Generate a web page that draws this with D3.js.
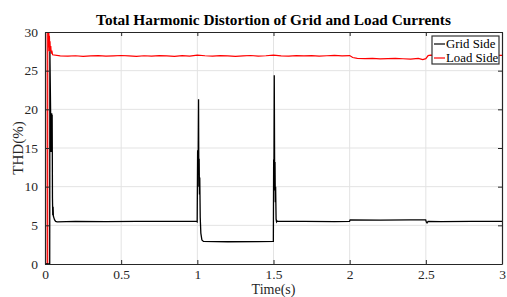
<!DOCTYPE html>
<html><head><meta charset="utf-8">
<script src="https://cdnjs.cloudflare.com/ajax/libs/d3/7.8.5/d3.min.js"></script>
<style>
html,body{margin:0;padding:0;background:#fff;}
svg{display:block;font-family:"Liberation Serif","Times New Roman",serif;}
</style></head><body>
<svg id="c" width="507" height="297"></svg>
<script>
const title = "Total Harmonic Distortion of Grid and Load Currents";
const xLabel = "Time(s)";
const yLabel = "THD(%)";
const seriesNames = ["Grid Side", "Load Side"];
const seriesColors = ["#000000", "#ff0000"];
const xTicks = [0, 0.5, 1, 1.5, 2, 2.5, 3];
const xTickLabels = ["0", "0.5", "1", "1.5", "2", "2.5", "3"];
const yTicks = [0, 5, 10, 15, 20, 25, 30];

// Grid side THD (time s, THD %)
const gridT = [0, 0.031, 0.032, 0.040, 0.044, 0.046, 0.047, 0.048, 0.049, 0.051, 0.053, 0.055, 0.058, 0.063, 0.070, 0.080,
  0.2, 0.4, 0.6, 0.8, 0.995,
  0.999, 1.002, 1.005, 1.008, 1.010, 1.012, 1.014, 1.016, 1.019, 1.023, 1.030, 1.040, 1.2, 1.4, 1.499,
  1.501, 1.503, 1.505, 1.508, 1.510, 1.512, 1.514, 1.517, 1.520, 1.524, 1.530,
  1.7, 1.9, 1.999, 2.003, 2.2, 2.4, 2.499, 2.503, 2.508, 2.515, 2.6, 2.8, 3.0];
const gridV = [0, 0, 27.5, 14.5, 19.5, 14.8, 19.3, 14.6, 8.5, 6.3, 7.4, 6.2, 6.0, 5.7, 5.5, 5.45,
  5.5, 5.48, 5.5, 5.52, 5.5,
  5.45, 14.7, 11.5, 21.3, 10.0, 13.6, 9.0, 11.2, 6.0, 4.0, 3.1, 2.92, 2.88, 2.9, 2.92,
  13.5, 11.0, 24.4, 9.5, 13.2, 8.0, 10.0, 5.8, 5.45, 5.55, 5.5,
  5.52, 5.48, 5.5, 5.7, 5.68, 5.7, 5.7, 5.45, 5.32, 5.5, 5.48, 5.5, 5.5];

// Load side THD (time s, THD %)
const loadT = [0, 0.0046, 0.0047, 0.0052, 0.0175, 0.0180, 0.021, 0.023, 0.025, 0.027, 0.029, 0.031, 0.033, 0.035, 0.038, 0.041, 0.045,
  0.05, 0.10, 0.15, 0.20, 0.25, 0.30, 0.35, 0.40, 0.45, 0.50, 0.55, 0.60, 0.65, 0.70, 0.75, 0.80, 0.85, 0.90, 0.95,
  1.00, 1.05, 1.10, 1.15, 1.20, 1.25, 1.30, 1.35, 1.40, 1.45, 1.50, 1.55, 1.60, 1.65, 1.70, 1.75, 1.80, 1.85, 1.90, 1.95,
  2.00, 2.02, 2.05, 2.10, 2.15, 2.20, 2.25, 2.30, 2.35, 2.40, 2.45, 2.48, 2.50, 2.515, 2.53, 2.6, 2.7, 2.8, 2.9, 3.0];
const loadV = [0, 0, 40, 0, 0, 40, 31, 28, 30.5, 27.5, 29.5, 27.8, 28.8, 27.5, 28.2, 27.2, 27.6,
  27.05, 26.92, 26.88, 26.93, 26.86, 26.90, 26.95, 26.87, 26.92, 26.96, 26.90, 26.85, 26.93, 26.88, 26.95, 26.91, 26.86, 26.94, 26.89,
  27.02, 26.93, 26.88, 26.95, 26.90, 26.86, 26.92, 26.96, 26.89, 26.93, 27.00, 26.91, 26.87, 26.94, 26.90, 26.95, 26.88, 26.93, 26.97, 26.92,
  26.95, 26.70, 26.60, 26.55, 26.58, 26.52, 26.56, 26.60, 26.54, 26.50, 26.58, 26.42, 26.55, 26.95, 27.0, 26.97, 27.0, 26.96, 27.0, 26.98];

const svg = d3.select("#c");
const L = 45, R = 502, T = 32, B = 264;
const x = d3.scaleLinear().domain([0, 3]).range([L, R]);
const y = d3.scaleLinear().domain([0, 30]).range([B, T]);
const axisColor = "#262626";

// grid
const g = svg.append("g");
g.selectAll(".gx").data(xTicks.slice(1, -1)).enter().append("line")
  .attr("x1", d => x(d)).attr("x2", d => x(d)).attr("y1", T).attr("y2", B)
  .attr("stroke", "#e3e3e3").attr("stroke-width", 1);
g.selectAll(".gy").data(yTicks.slice(1, -1)).enter().append("line")
  .attr("x1", L).attr("x2", R).attr("y1", d => y(d)).attr("y2", d => y(d))
  .attr("stroke", "#e3e3e3").attr("stroke-width", 1);

// clip
svg.append("clipPath").attr("id", "clip").append("rect")
  .attr("x", L).attr("y", T).attr("width", R - L).attr("height", B - T);

const line = d3.line().x(d => x(d[0])).y(d => y(d[1]));
const plot = svg.append("g").attr("clip-path", "url(#clip)");
plot.append("path").datum(loadT.map((t, i) => [t, loadV[i]]))
  .attr("d", line).attr("fill", "none").attr("stroke", seriesColors[1]).attr("stroke-width", 1.2);
plot.append("path").datum(gridT.map((t, i) => [t, gridV[i]]))
  .attr("d", line).attr("fill", "none").attr("stroke", seriesColors[0]).attr("stroke-width", 1.3);

// axes
const tickLen = 4;
const xAxisB = d3.axisBottom(x).tickValues(xTicks).tickFormat((d, i) => xTickLabels[i]).tickSizeInner(-tickLen).tickSizeOuter(0).tickPadding(5);
const yAxisL = d3.axisLeft(y).tickValues(yTicks).tickSizeInner(-tickLen).tickSizeOuter(0).tickPadding(7);
const xAxisT = d3.axisTop(x).tickValues(xTicks).tickFormat("").tickSizeInner(-tickLen).tickSizeOuter(0);
const yAxisR = d3.axisRight(y).tickValues(yTicks).tickFormat("").tickSizeInner(-tickLen).tickSizeOuter(0);

function style(sel) {
  sel.selectAll("path").attr("stroke", axisColor);
  sel.selectAll("line").attr("stroke", axisColor);
  sel.selectAll("text").attr("fill", axisColor).style("font-family", "'Liberation Serif', serif").style("font-size", "13.5px");
}
style(svg.append("g").attr("transform", `translate(0,${B})`).call(xAxisB));
style(svg.append("g").attr("transform", `translate(${L},0)`).call(yAxisL));
style(svg.append("g").attr("transform", `translate(0,${T})`).call(xAxisT));
style(svg.append("g").attr("transform", `translate(${R},0)`).call(yAxisR));
svg.selectAll(".domain").attr("stroke-width", 1.2);

// title & labels
svg.append("text").attr("x", (L + R) / 2).attr("y", 25).attr("text-anchor", "middle")
  .style("font-weight", "bold").style("font-size", "15.3px").attr("fill", "#000").text(title);
svg.append("text").attr("x", (L + R) / 2).attr("y", 293.5).attr("text-anchor", "middle")
  .style("font-size", "14px").attr("fill", axisColor).text(xLabel);
svg.append("text").attr("transform", `translate(23,${(T + B) / 2}) rotate(-90)`).attr("text-anchor", "middle")
  .style("font-size", "15px").attr("fill", axisColor).text(yLabel);

// legend
const lg = svg.append("g").attr("transform", "translate(432,36)");
lg.append("rect").attr("x", 0).attr("y", 0).attr("width", 67).attr("height", 28)
  .attr("fill", "#fff").attr("stroke", "#333").attr("stroke-width", 1.2);
seriesNames.forEach((n, i) => {
  const yy = 8 + i * 14;
  lg.append("line").attr("x1", 2).attr("x2", 13).attr("y1", yy).attr("y2", yy)
    .attr("stroke", seriesColors[i]).attr("stroke-width", 1.2);
  lg.append("text").attr("x", 14).attr("y", yy + 4).style("font-size", "12.8px").attr("fill", "#000").text(n);
});
</script>
</body></html>
